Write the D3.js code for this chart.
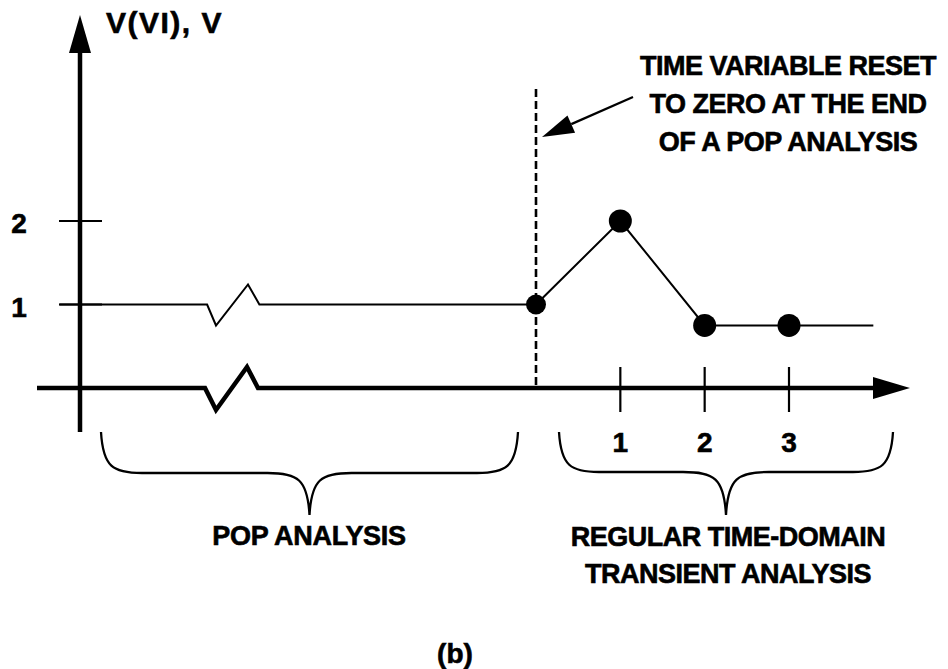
<!DOCTYPE html>
<html>
<head>
<meta charset="utf-8">
<script src="https://cdn.jsdelivr.net/npm/d3@7"></script>
<style>
  html, body { margin: 0; padding: 0; background: #fff; }
  svg { display: block; }
  text { font-family: "Liberation Sans", Arial, Helvetica, sans-serif; font-weight: bold; fill: #000; stroke: #000; stroke-width: 0.6; }
</style>
</head>
<body>
<svg id="chart" width="948" height="669"></svg>
<script>
// ---------- data ----------
const yTickValues = [1, 2];
const yTickLabels = ["1", "2"];
const xTickValues = [1, 2, 3];
const xTickLabels = ["1", "2", "3"];
// transient analysis samples (time, voltage)
const transientTimes = [0, 1, 2, 3];
const transientValues = [1, 2, 0.75, 0.75];
// trailing continuation of the waveform
const tailTimes = [3, 4];
const tailValues = [0.75, 0.75];
// POP analysis (steady value, drawn before the reset, with a time break)
const popTimes = [-5.65, -3.9, -3.28, 0];
const popValues = [1, 1, 1, 1];
const yAxisTitle = "V(VI), V";
const annotationLines = ["TIME VARIABLE RESET", "TO ZERO AT THE END", "OF A POP ANALYSIS"];
const popLabel = ["POP ANALYSIS"];
const transientLabel = ["REGULAR TIME-DOMAIN", "TRANSIENT ANALYSIS"];
const caption = "(b)";

// ---------- scales ----------
const svg = d3.select("#chart");
const x = d3.scaleLinear().domain([0, 3]).range([536, 789]);
const y = d3.scaleLinear().domain([0, 2]).range([388, 221]);
const axisX = 80;        // pixel position of the vertical axis
const axisY = y(0);

// ---------- axes ----------
// y axis
svg.append("line").attr("x1", axisX).attr("x2", axisX).attr("y1", 432).attr("y2", 40)
  .attr("stroke", "#000").attr("stroke-width", 4.5);
svg.append("path").attr("d", `M${axisX},15 L${axisX - 11},53 L${axisX + 11},53 Z`).attr("fill", "#000");

// x axis with break zigzag
const brkL = 205, brkR = 258;
const xAxisPts = [[37, axisY], [brkL, axisY], [216, axisY + 22], [247, axisY - 21], [brkR, axisY], [880, axisY]];
svg.append("path").attr("d", d3.line()(xAxisPts))
  .attr("fill", "none").attr("stroke", "#000").attr("stroke-width", 4.5).attr("stroke-linejoin", "miter");
svg.append("path").attr("d", `M910,${axisY} L873,${axisY - 11} L873,${axisY + 11} Z`).attr("fill", "#000");

// y ticks
svg.selectAll(".ytick").data(yTickValues).join("line")
  .attr("x1", 59).attr("x2", 102).attr("y1", d => y(d)).attr("y2", d => y(d))
  .attr("stroke", "#000").attr("stroke-width", 2);
svg.selectAll(".ylab").data(yTickValues).join("text")
  .attr("x", 19).attr("y", d => y(d) + 12).attr("text-anchor", "middle")
  .attr("font-size", 28).text((d, i) => yTickLabels[i]);

// x ticks
svg.selectAll(".xtick").data(xTickValues).join("line")
  .attr("x1", d => x(d)).attr("x2", d => x(d)).attr("y1", 367).attr("y2", 412)
  .attr("stroke", "#000").attr("stroke-width", 2.2);
svg.selectAll(".xlab").data(xTickValues).join("text")
  .attr("x", d => x(d)).attr("y", 452).attr("text-anchor", "middle")
  .attr("font-size", 28).text((d, i) => xTickLabels[i]);

// y axis title
svg.append("text").attr("x", 106).attr("y", 33).attr("font-size", 30)
  .attr("letter-spacing", 1.5).text(yAxisTitle);

// ---------- dashed reset line ----------
svg.append("line").attr("x1", x(0)).attr("x2", x(0)).attr("y1", 89).attr("y2", axisY)
  .attr("stroke", "#000").attr("stroke-width", 2.6).attr("stroke-dasharray", "8,4");

// ---------- POP waveform with break ----------
const popPts = popTimes.map((t, i) => [x(t), y(popValues[i])]);
const py = y(1);
const popPath = [
  popPts[0], popPts[1], [216, py + 21], [248, py - 20], popPts[2], popPts[3]
];
svg.append("path").attr("d", d3.line()(popPath))
  .attr("fill", "none").attr("stroke", "#000").attr("stroke-width", 2);

// ---------- transient waveform ----------
const trPts = transientTimes.map((t, i) => [x(t), y(transientValues[i])]);
const tailPts = tailTimes.map((t, i) => [x(t), y(tailValues[i])]);
svg.append("path").attr("d", d3.line()(trPts.concat(tailPts.slice(1))))
  .attr("fill", "none").attr("stroke", "#000").attr("stroke-width", 2);
svg.selectAll(".pt").data(trPts).join("circle")
  .attr("cx", d => d[0]).attr("cy", d => d[1])
  .attr("r", (d, i) => i === 0 ? 10 : 11.5).attr("fill", "#000");

// ---------- annotation ----------
const annY = [75, 113, 151];
svg.selectAll(".ann").data(annotationLines).join("text")
  .attr("x", 788).attr("y", (d, i) => annY[i]).attr("text-anchor", "middle")
  .attr("font-size", 27).attr("letter-spacing", -0.5).text(d => d);
// arrow
const ax1 = 633, ay1 = 97, ax2 = 542, ay2 = 137;
const ang = Math.atan2(ay2 - ay1, ax2 - ax1);
const hl = 32, hw = 9.5;
const bx = ax2 - hl * Math.cos(ang), by = ay2 - hl * Math.sin(ang);
svg.append("line").attr("x1", ax1).attr("y1", ay1).attr("x2", bx).attr("y2", by)
  .attr("stroke", "#000").attr("stroke-width", 2.2);
svg.append("path").attr("d",
  `M${ax2},${ay2} L${bx + hw * Math.sin(ang)},${by - hw * Math.cos(ang)} L${bx - hw * Math.sin(ang)},${by + hw * Math.cos(ang)} Z`)
  .attr("fill", "#000");

// ---------- braces ----------
function brace(x1, x2, yTop, yMid, yTip) {
  const xm = (x1 + x2) / 2;
  const r = yMid - yTop;
  const r2 = yTip - yMid;
  return `M${x1},${yTop} C${x1 + 2},${yMid - 6} ${x1 + 12},${yMid} ${x1 + r},${yMid}` +
         ` L${xm - r2},${yMid} C${xm - 12},${yMid} ${xm - 2},${yMid + 6} ${xm},${yTip}` +
         ` C${xm + 2},${yMid + 6} ${xm + 12},${yMid} ${xm + r2},${yMid}` +
         ` L${x2 - r},${yMid} C${x2 - 12},${yMid} ${x2 - 2},${yMid - 6} ${x2},${yTop}`;
}
svg.append("path").attr("d", brace(101, 518, 432, 473, 515))
  .attr("fill", "none").attr("stroke", "#000").attr("stroke-width", 2.3);
svg.append("path").attr("d", brace(559, 893, 432, 472, 515))
  .attr("fill", "none").attr("stroke", "#000").attr("stroke-width", 2.3);

svg.append("text").attr("x", 309).attr("y", 545).attr("text-anchor", "middle")
  .attr("font-size", 27).attr("letter-spacing", -0.3).text(popLabel[0]);
svg.selectAll(".trl").data(transientLabel).join("text")
  .attr("x", 728).attr("y", (d, i) => 546 + i * 37).attr("text-anchor", "middle")
  .attr("font-size", 27).attr("letter-spacing", -0.5).text(d => d);

// caption
svg.append("text").attr("x", 455).attr("y", 663).attr("text-anchor", "middle")
  .attr("font-size", 28).text(caption);
</script>
</body>
</html>
